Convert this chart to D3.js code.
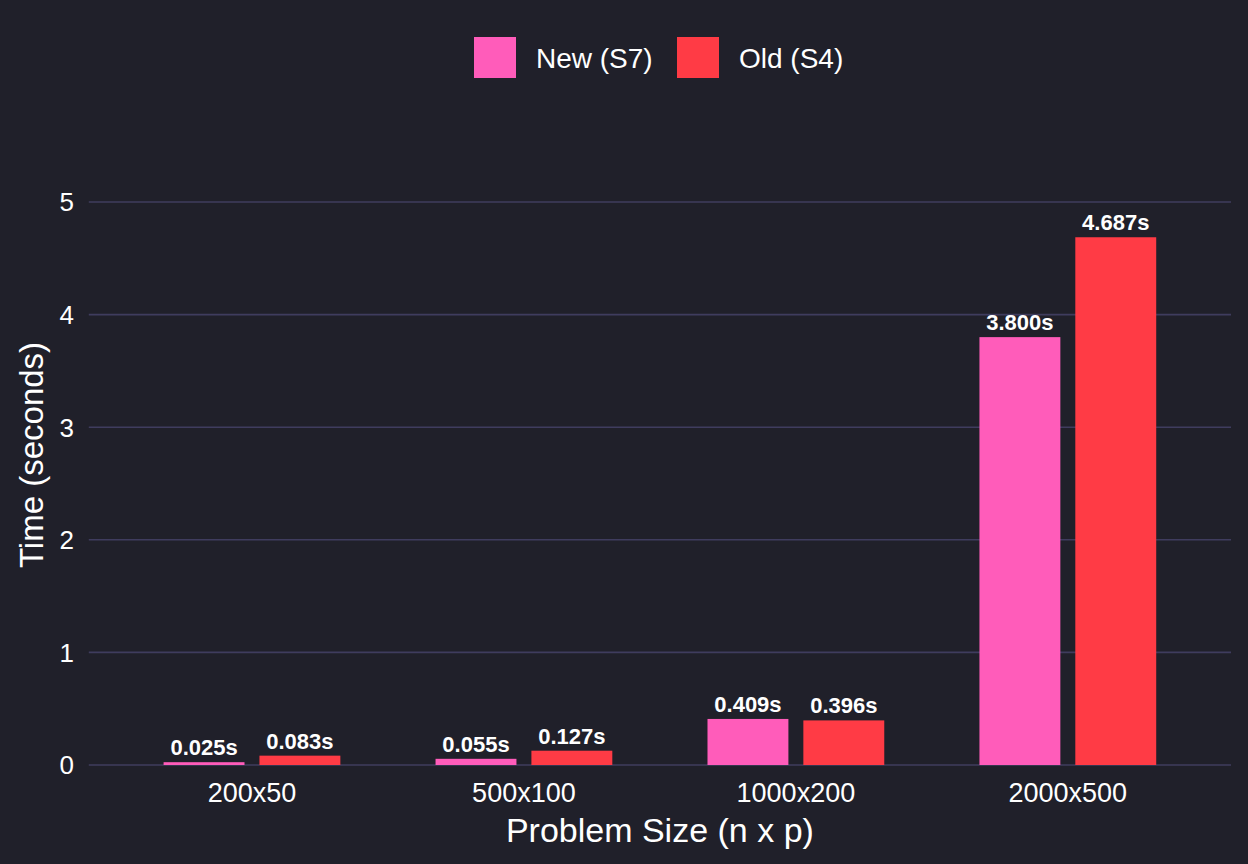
<!DOCTYPE html>
<html>
<head>
<meta charset="utf-8">
<script src="https://cdn.jsdelivr.net/npm/d3@7"></script>
<style>
  html, body { margin: 0; padding: 0; background: #20202a; }
  svg { display: block; font-family: "Liberation Sans", Arial, sans-serif; }
</style>
</head>
<body>
<svg id="chart" width="1248" height="864"></svg>
<script>
const sizes = ["200x50", "500x100", "1000x200", "2000x500"];
const seriesNames = ["New (S7)", "Old (S4)"];
const newTimes = [0.025, 0.055, 0.409, 3.800];
const oldTimes = [0.083, 0.127, 0.396, 4.687];
const yTicks = [0, 1, 2, 3, 4, 5];
const colors = ["#ff5cba", "#ff3b45"];

const W = 1248, H = 864;
const left = 88.8, right = 1231;
const svg = d3.select("#chart");

svg.append("rect").attr("width", W).attr("height", H).attr("fill", "#20202a");

// discrete axis, 0.6 expansion on each side
const x = d3.scalePoint().domain(sizes).range([left, right]).padding(0.6);
const step = x.step();
const y = d3.scaleLinear().domain([0, 5]).range([765, 202]);

const sub = d3.scaleBand().domain(seriesNames)
  .range([-0.325 * step, 0.325 * step])
  .paddingInner(0.156);

// gridlines
svg.append("g").selectAll("line")
  .data(yTicks).enter()
  .append("line")
  .attr("x1", left).attr("x2", right)
  .attr("y1", d => y(d)).attr("y2", d => y(d))
  .attr("stroke", "#3f3c5e")
  .attr("stroke-width", 1.6);

// y tick labels
svg.append("g").selectAll("text")
  .data(yTicks).enter()
  .append("text")
  .attr("x", 74).attr("y", d => y(d))
  .attr("dy", "0.36em")
  .attr("text-anchor", "end")
  .attr("fill", "#ffffff")
  .attr("font-size", 26)
  .text(d => d);

// x tick labels
svg.append("g").selectAll("text")
  .data(sizes).enter()
  .append("text")
  .attr("x", d => x(d)).attr("y", 802)
  .attr("text-anchor", "middle")
  .attr("fill", "#ffffff")
  .attr("font-size", 27)
  .text(d => d);

const rows = [];
sizes.forEach((s, i) => {
  rows.push({ size: s, series: seriesNames[0], value: newTimes[i] });
  rows.push({ size: s, series: seriesNames[1], value: oldTimes[i] });
});
const color = d3.scaleOrdinal().domain(seriesNames).range(colors);

svg.append("g").selectAll("rect")
  .data(rows).enter()
  .append("rect")
  .attr("x", d => x(d.size) + sub(d.series))
  .attr("width", sub.bandwidth())
  .attr("y", d => y(d.value))
  .attr("height", d => y(0) - y(d.value))
  .attr("fill", d => color(d.series));

svg.append("g").selectAll("text")
  .data(rows).enter()
  .append("text")
  .attr("x", d => x(d.size) + sub(d.series) + sub.bandwidth() / 2)
  .attr("y", d => y(d.value) - 7)
  .attr("text-anchor", "middle")
  .attr("fill", "#ffffff")
  .attr("font-weight", "bold")
  .attr("font-size", 22)
  .text(d => d.value.toFixed(3) + "s");

// axis titles
svg.append("text")
  .attr("x", (left + right) / 2).attr("y", 842)
  .attr("text-anchor", "middle")
  .attr("fill", "#ffffff")
  .attr("font-size", 34)
  .text("Problem Size (n x p)");

svg.append("text")
  .attr("transform", "translate(43,455) rotate(-90)")
  .attr("text-anchor", "middle")
  .attr("fill", "#ffffff")
  .attr("font-size", 33)
  .text("Time (seconds)");

// legend
const legend = svg.append("g");
const legendX = [474, 677];
seriesNames.forEach((name, i) => {
  legend.append("rect")
    .attr("x", legendX[i]).attr("y", 37)
    .attr("width", 42).attr("height", 41)
    .attr("fill", colors[i]);
  legend.append("text")
    .attr("x", legendX[i] + 62).attr("y", 58)
    .attr("dy", "0.36em")
    .attr("fill", "#ffffff")
    .attr("font-size", 28)
    .text(name);
});
</script>
</body>
</html>
